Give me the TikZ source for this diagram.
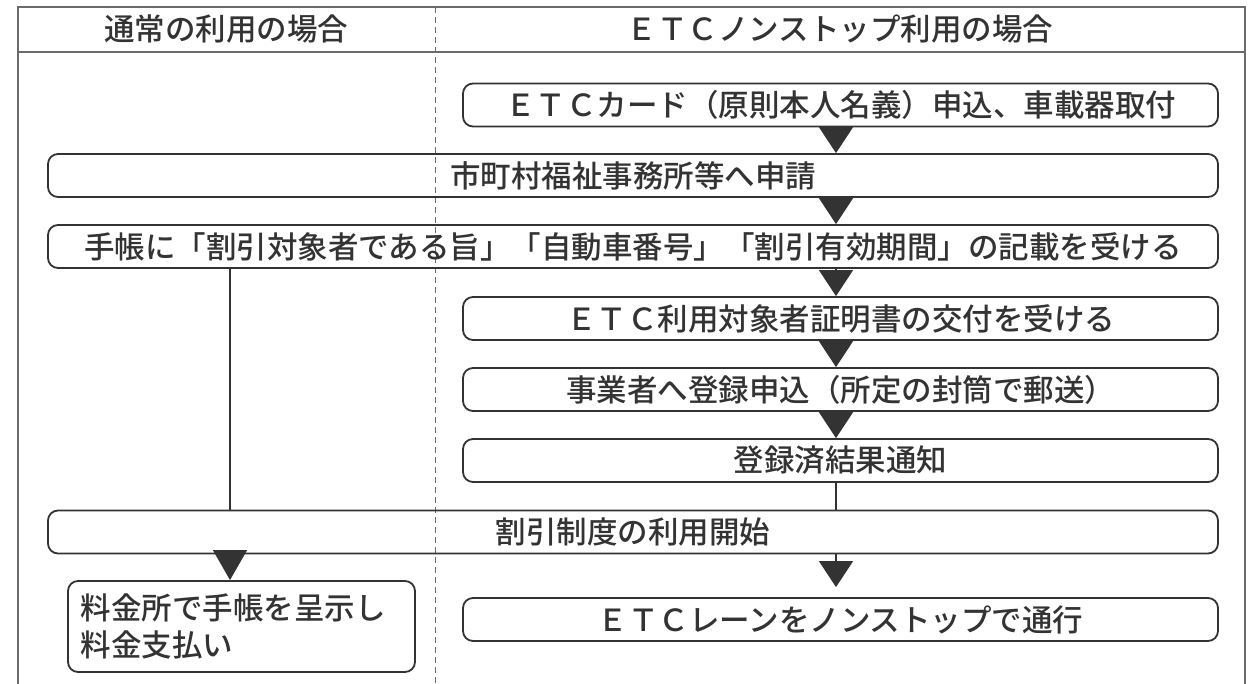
\documentclass[tikz,border=0pt]{standalone}
\usepackage{fontspec}
\setmainfont{Noto Sans CJK JP Medium}
\usetikzlibrary{arrows.meta}
\definecolor{ink}{HTML}{333333}
\definecolor{framec}{HTML}{6A6A6A}
\tikzset{
  box/.style={draw=ink, line width=1.8pt, rounded corners=10pt, minimum height=43pt,
    inner sep=0pt, font=\fontsize{30.5}{36}\selectfont, text=ink},
  wide/.style={box, minimum width=1170pt},
  half/.style={box, minimum width=755pt},
  frameline/.style={draw=framec, line width=1.2pt},
  divline/.style={draw=framec, line width=1pt, dash pattern=on 6pt off 4pt},
  flow/.style={draw=ink, line width=1.2pt, -{Triangle[width=34pt,length=26pt]}, fill=ink},
  link/.style={draw=ink, line width=1.2pt},
  head/.style={font=\fontsize{30.5}{36}\selectfont, text=ink, inner sep=0pt}
}
\begin{document}
\begin{tikzpicture}[x=1pt,y=-1pt]
\useasboundingbox (0,0) rectangle (1249,684);
% frame
\coordinate (tl) at (18,7);
\coordinate (tr) at (1245,7);
\coordinate (bl) at (18,684);
\coordinate (br) at (1245,684);
\coordinate (hl) at (18,52);
\coordinate (hr) at (1245,52);
\coordinate (dt) at (435,7);
\coordinate (db) at (435,684);
\draw[frameline] (bl) -- (tl) -- (tr) -- (br);
\draw[frameline] (hl) -- (hr);
\draw[divline] (dt) -- (db);
% headers
\node[head] (h1) at (226,29) {通常の利用の場合};
\node[head] (h2) at (840,29) {ＥＴＣノンストップ利用の場合};
% boxes
\node[half] (b1) at (840.5,105) {ＥＴＣカード（原則本人名義）申込、車載器取付};
\node[wide] (b2) at (633,175.5) {市町村福祉事務所等へ申請};
\node[wide] (b3) at (633,246.5) {手帳に「割引対象者である旨」「自動車番号」「割引有効期間」の記載を受ける};
\node[half] (b4) at (840.5,318.5) {ＥＴＣ利用対象者証明書の交付を受ける};
\node[half] (b5) at (840.5,389.5) {事業者へ登録申込（所定の封筒で郵送）};
\node[half] (b6) at (840.5,460.5) {登録済結果通知};
\node[wide] (b7) at (633,532) {割引制度の利用開始};
\node[box, minimum width=347pt, minimum height=91pt, text width=322pt, align=left,
      font=\fontsize{30.5}{37}\selectfont] (b8) at (241.5,626.5) {料金所で手帳を呈示し\\料金支払い};
\node[half] (b9) at (840.5,619.5) {ＥＴＣレーンをノンストップで通行};
% connectors
\coordinate (ax) at (836,0);
\coordinate (lx) at (230,0);
\draw[flow] (b1.south -| ax) -- (b2.north -| ax);
\draw[flow] (b2.south -| ax) -- (b3.north -| ax);
\draw[flow] (b3.south -| ax) -- (b4.north -| ax);
\draw[flow] (b4.south -| ax) -- (b5.north -| ax);
\draw[flow] (b5.south -| ax) -- (b6.north -| ax);
\draw[link] (b6.south -| ax) -- (b7.north -| ax);
\draw[link] (b3.south -| lx) -- (b7.north -| lx);
\draw[flow, -{Triangle[width=34pt,length=30pt]}] (b7.south -| lx) -- (b8.north -| lx);
\draw[flow, shorten >=10pt] (b7.south -| ax) -- (b9.north -| ax);
\end{tikzpicture}
\end{document}
